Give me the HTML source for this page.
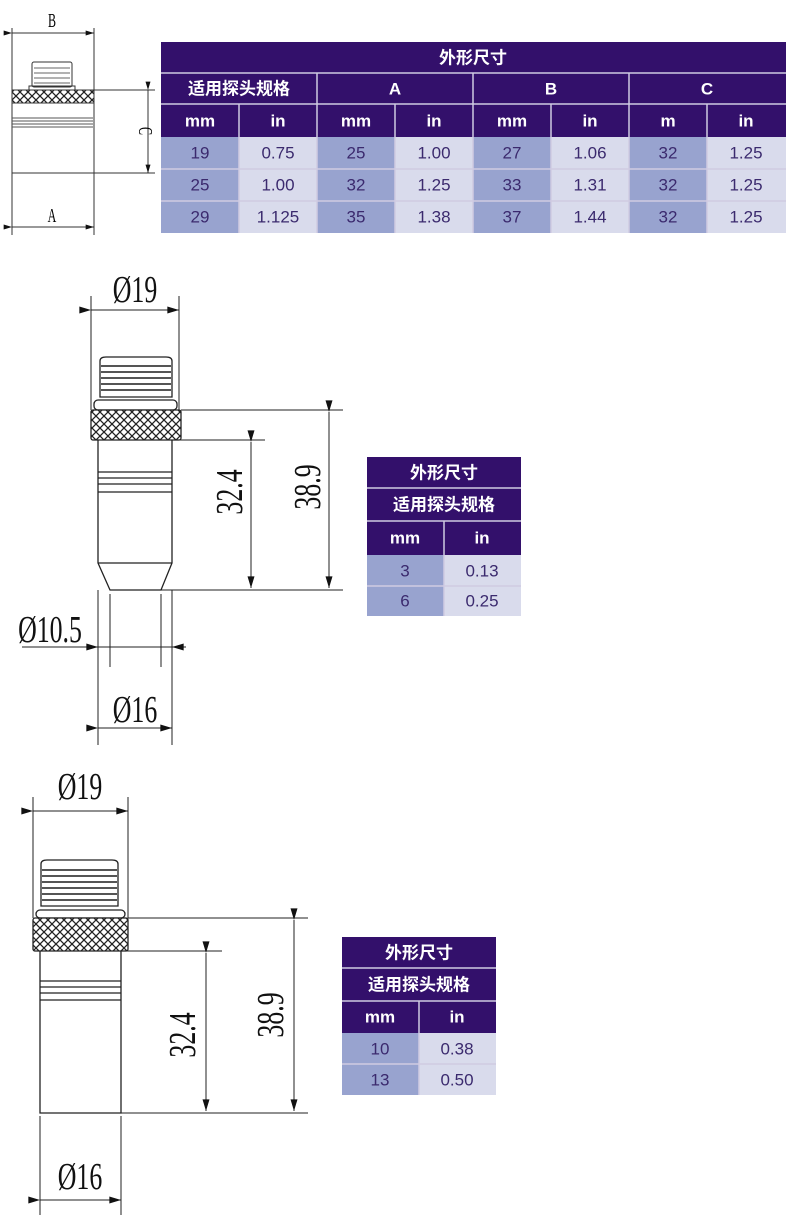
<!DOCTYPE html>
<html><head><meta charset="utf-8"><style>
html,body{margin:0;padding:0;background:#fff;}
svg{display:block}
.t{font-family:"Liberation Sans","Noto Sans CJK SC",sans-serif;font-size:17px;text-anchor:middle;dominant-baseline:central}
.h{fill:#fff;font-weight:bold}
.d{fill:#3b2a6e}
.dim{font-family:"Liberation Serif",serif;font-size:38px;fill:#111}
</style></head><body>
<svg width="790" height="1224" viewBox="0 0 790 1224" xmlns="http://www.w3.org/2000/svg">
<defs>
<pattern id="kn" width="8" height="8" patternUnits="userSpaceOnUse">
<rect width="8" height="8" fill="#fff"/>
<path d="M0,0L8,8M8,0L0,8" stroke="#222" stroke-width="1.3"/>
</pattern>
<marker id="ar" viewBox="0 0 10 6" refX="10" refY="3" markerWidth="24" markerHeight="7" orient="auto" markerUnits="userSpaceOnUse"><path d="M0,0L10,3L0,6z" fill="#111"/></marker>
<marker id="as" viewBox="0 0 10 6" refX="10" refY="3" markerWidth="14" markerHeight="5" orient="auto" markerUnits="userSpaceOnUse"><path d="M0,0L10,3L0,6z" fill="#111"/></marker>
</defs>

<!-- ===== top-left small drawing ===== -->
<g stroke="#333" stroke-width="1" fill="none">
<line x1="12" y1="28" x2="12" y2="235"/><line x1="94" y1="28" x2="94" y2="235"/>
<line x1="12" y1="33" x2="94" y2="33" marker-start="url(#as)" marker-end="url(#as)"/>
<line x1="12" y1="227" x2="94" y2="227" marker-start="url(#as)" marker-end="url(#as)"/>
<rect x="32" y="62" width="40" height="25" rx="2"/>
<path d="M34,68h36M34,73h36M34,78h36M34,83h36" stroke="#666"/>
<rect x="29" y="86" width="46" height="4"/>
<rect x="12" y="90" width="82" height="13" fill="url(#kn)"/>
<line x1="12" y1="173" x2="94" y2="173"/>
<path d="M12,118h81M12,121h81M12,124h81M12,127h81" stroke="#555"/>
<line x1="94" y1="90" x2="155" y2="90"/><line x1="94" y1="173" x2="155" y2="173"/>
<line x1="148" y1="90" x2="148" y2="173" marker-start="url(#as)" marker-end="url(#as)"/>
</g>
<text x="0" y="0" font-family="Liberation Serif" font-size="20" text-anchor="middle" transform="translate(52 27) scale(0.6 1)">B</text>
<text x="0" y="0" font-family="Liberation Serif" font-size="20" text-anchor="middle" transform="translate(52 222) scale(0.6 1)">A</text>
<text x="0" y="0" font-family="Liberation Serif" font-size="20" text-anchor="middle" transform="translate(139 131) rotate(90) scale(0.6 1)">C</text>

<!-- ===== top table ===== -->
<g>
<rect x="161" y="42" width="625" height="95" fill="#33106b"/>
<rect x="161" y="137" width="78" height="96" fill="#98a3cf"/><rect x="239" y="137" width="78" height="96" fill="#d9dbec"/>
<rect x="317" y="137" width="78" height="96" fill="#98a3cf"/><rect x="395" y="137" width="78" height="96" fill="#d9dbec"/>
<rect x="473" y="137" width="78" height="96" fill="#98a3cf"/><rect x="551" y="137" width="78" height="96" fill="#d9dbec"/>
<rect x="629" y="137" width="78" height="96" fill="#98a3cf"/><rect x="707" y="137" width="79" height="96" fill="#d9dbec"/>
<g stroke="#cfcbe2" stroke-width="1.5">
<line x1="161" y1="73" x2="786" y2="73"/><line x1="161" y1="104" x2="786" y2="104"/>
<line x1="161" y1="169" x2="786" y2="169"/><line x1="161" y1="201" x2="786" y2="201"/>
<line x1="317" y1="73" x2="317" y2="233"/><line x1="473" y1="73" x2="473" y2="233"/><line x1="629" y1="73" x2="629" y2="233"/>
<line x1="239" y1="104" x2="239" y2="233"/><line x1="395" y1="104" x2="395" y2="233"/><line x1="551" y1="104" x2="551" y2="233"/><line x1="707" y1="104" x2="707" y2="233"/>
</g>
<text class="t h" x="473" y="58">外形尺寸</text>
<text class="t h" x="239" y="89">适用探头规格</text><text class="t h" x="395" y="89">A</text><text class="t h" x="551" y="89">B</text><text class="t h" x="707" y="89">C</text>
<text class="t h" x="200" y="121">mm</text><text class="t h" x="278" y="121">in</text><text class="t h" x="356" y="121">mm</text><text class="t h" x="434" y="121">in</text>
<text class="t h" x="512" y="121">mm</text><text class="t h" x="590" y="121">in</text><text class="t h" x="668" y="121">m</text><text class="t h" x="746" y="121">in</text>
<text class="t d" x="200" y="153">19</text><text class="t d" x="278" y="153">0.75</text><text class="t d" x="356" y="153">25</text><text class="t d" x="434" y="153">1.00</text><text class="t d" x="512" y="153">27</text><text class="t d" x="590" y="153">1.06</text><text class="t d" x="668" y="153">32</text><text class="t d" x="746" y="153">1.25</text>
<text class="t d" x="200" y="185">25</text><text class="t d" x="278" y="185">1.00</text><text class="t d" x="356" y="185">32</text><text class="t d" x="434" y="185">1.25</text><text class="t d" x="512" y="185">33</text><text class="t d" x="590" y="185">1.31</text><text class="t d" x="668" y="185">32</text><text class="t d" x="746" y="185">1.25</text>
<text class="t d" x="200" y="217">29</text><text class="t d" x="278" y="217">1.125</text><text class="t d" x="356" y="217">35</text><text class="t d" x="434" y="217">1.38</text><text class="t d" x="512" y="217">37</text><text class="t d" x="590" y="217">1.44</text><text class="t d" x="668" y="217">32</text><text class="t d" x="746" y="217">1.25</text>
</g>

<!-- ===== middle drawing ===== -->
<g stroke="#222" stroke-width="1.3" fill="none">
<line x1="91" y1="296" x2="91" y2="410" stroke-width="1"/><line x1="179" y1="296" x2="179" y2="410" stroke-width="1"/>
<line x1="91" y1="310" x2="179" y2="310" stroke-width="1" marker-start="url(#ar)" marker-end="url(#ar)"/>
<path d="M100,361q0,-4 6,-4h60q6,0 6,4v36h-72z"/>
<path d="M101,366h70M101,372h70M101,378h70M101,384h70M101,390h70" stroke="#555" stroke-width="2"/>
<rect x="94" y="400" width="83" height="10" rx="4"/>
<rect x="91" y="410" width="90" height="30" rx="2" fill="url(#kn)"/>
<path d="M98,440V563L110,590H161L172,563V440"/>
<line x1="98" y1="563" x2="172" y2="563"/>
<path d="M98,472h74M98,478h74M98,484h74M98,492h74"/>
<g stroke-width="1">
<line x1="181" y1="410" x2="343" y2="410"/><line x1="172" y1="440" x2="265" y2="440"/><line x1="161" y1="590" x2="343" y2="590"/>
<line x1="251" y1="442" x2="251" y2="588" marker-start="url(#ar)" marker-end="url(#ar)"/>
<line x1="329" y1="412" x2="329" y2="588" marker-start="url(#ar)" marker-end="url(#ar)"/>
<line x1="110" y1="594" x2="110" y2="667"/><line x1="161" y1="594" x2="161" y2="667"/>
<line x1="98" y1="590" x2="98" y2="745"/><line x1="172" y1="590" x2="172" y2="745"/>
<line x1="22" y1="647" x2="98" y2="647" marker-end="url(#ar)"/><line x1="98" y1="647" x2="172" y2="647"/><line x1="186" y1="647" x2="172" y2="647" marker-end="url(#ar)"/>
<line x1="98" y1="728" x2="172" y2="728" marker-start="url(#ar)" marker-end="url(#ar)"/>
</g>
</g>
<text class="dim" x="0" y="0" text-anchor="middle" transform="translate(135 302) scale(0.68 1)">Ø19</text>
<text class="dim" x="0" y="0" text-anchor="middle" transform="translate(50 642) scale(0.68 1)">Ø10.5</text>
<text class="dim" x="0" y="0" text-anchor="middle" transform="translate(135 722) scale(0.68 1)">Ø16</text>
<text class="dim" x="0" y="0" text-anchor="middle" transform="translate(242 492) rotate(-90) scale(0.68 1)">32.4</text>
<text class="dim" x="0" y="0" text-anchor="middle" transform="translate(320 487) rotate(-90) scale(0.68 1)">38.9</text>

<!-- middle table -->
<g>
<rect x="367" y="457" width="154" height="98" fill="#33106b"/>
<rect x="367" y="555" width="77" height="61" fill="#98a3cf"/><rect x="444" y="555" width="77" height="61" fill="#d9dbec"/>
<g stroke="#cfcbe2" stroke-width="1.5"><line x1="367" y1="488" x2="521" y2="488"/><line x1="367" y1="521" x2="521" y2="521"/><line x1="367" y1="586" x2="521" y2="586"/><line x1="444" y1="521" x2="444" y2="616"/></g>
<text class="t h" x="444" y="473">外形尺寸</text><text class="t h" x="444" y="505">适用探头规格</text>
<text class="t h" x="405" y="538">mm</text><text class="t h" x="482" y="538">in</text>
<text class="t d" x="405" y="571">3</text><text class="t d" x="482" y="571">0.13</text>
<text class="t d" x="405" y="601">6</text><text class="t d" x="482" y="601">0.25</text>
</g>

<!-- ===== bottom drawing ===== -->
<g stroke="#222" stroke-width="1.3" fill="none">
<line x1="33" y1="797" x2="33" y2="918" stroke-width="1"/><line x1="128" y1="797" x2="128" y2="918" stroke-width="1"/>
<line x1="33" y1="811" x2="128" y2="811" stroke-width="1" marker-start="url(#ar)" marker-end="url(#ar)"/>
<path d="M41,864q0,-4 6,-4h65q6,0 6,4v42h-77z"/>
<path d="M42,870h75M42,876h75M42,882h75M42,888h75M42,894h75M42,900h75" stroke="#555" stroke-width="2"/>
<rect x="36" y="910" width="89" height="8" rx="4"/>
<rect x="33" y="918" width="95" height="33" rx="2" fill="url(#kn)"/>
<path d="M40,951V1113H121V951"/>
<path d="M40,981h81M40,987h81M40,993h81M40,1000h81"/>
<g stroke-width="1">
<line x1="128" y1="918" x2="308" y2="918"/><line x1="121" y1="951" x2="222" y2="951"/><line x1="121" y1="1113" x2="308" y2="1113"/>
<line x1="206" y1="953" x2="206" y2="1111" marker-start="url(#ar)" marker-end="url(#ar)"/>
<line x1="294" y1="920" x2="294" y2="1111" marker-start="url(#ar)" marker-end="url(#ar)"/>
<line x1="40" y1="1116" x2="40" y2="1215"/><line x1="121" y1="1116" x2="121" y2="1215"/>
<line x1="40" y1="1200" x2="121" y2="1200" marker-start="url(#ar)" marker-end="url(#ar)"/>
</g>
</g>
<text class="dim" x="0" y="0" text-anchor="middle" transform="translate(80 799) scale(0.68 1)">Ø19</text>
<text class="dim" x="0" y="0" text-anchor="middle" transform="translate(80 1189) scale(0.68 1)">Ø16</text>
<text class="dim" x="0" y="0" text-anchor="middle" transform="translate(195 1035) rotate(-90) scale(0.68 1)">32.4</text>
<text class="dim" x="0" y="0" text-anchor="middle" transform="translate(283 1015) rotate(-90) scale(0.68 1)">38.9</text>

<!-- bottom table -->
<g>
<rect x="342" y="937" width="154" height="96" fill="#33106b"/>
<rect x="342" y="1033" width="77" height="62" fill="#98a3cf"/><rect x="419" y="1033" width="77" height="62" fill="#d9dbec"/>
<g stroke="#cfcbe2" stroke-width="1.5"><line x1="342" y1="968" x2="496" y2="968"/><line x1="342" y1="1001" x2="496" y2="1001"/><line x1="342" y1="1064" x2="496" y2="1064"/><line x1="419" y1="1001" x2="419" y2="1095"/></g>
<text class="t h" x="419" y="953">外形尺寸</text><text class="t h" x="419" y="985">适用探头规格</text>
<text class="t h" x="380" y="1017">mm</text><text class="t h" x="457" y="1017">in</text>
<text class="t d" x="380" y="1049">10</text><text class="t d" x="457" y="1049">0.38</text>
<text class="t d" x="380" y="1080">13</text><text class="t d" x="457" y="1080">0.50</text>
</g>
</svg>
</body></html>
